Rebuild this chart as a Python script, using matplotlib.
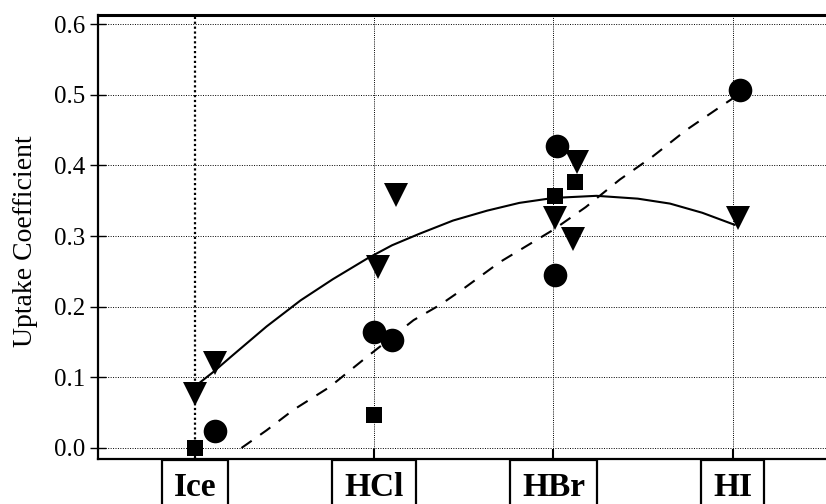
import matplotlib
matplotlib.use("Agg")
import matplotlib.pyplot as plt

# categories along the x axis
categories = ["Ice", "HCl", "HBr", "HI"]
cat_pos = [1, 2, 3, 4]

# filled circles
circle_x = [1.11, 2.00, 2.10, 3.02, 3.01, 4.04]
circle_y = [0.024, 0.164, 0.153, 0.427, 0.245, 0.507]

# filled down-triangles
tri_x = [1.00, 1.11, 2.02, 2.12, 3.01, 3.11, 3.13, 4.03]
tri_y = [0.077, 0.121, 0.256, 0.358, 0.325, 0.296, 0.405, 0.325]

# filled squares
sq_x = [1.00, 2.00, 3.01, 3.12]
sq_y = [0.000, 0.047, 0.357, 0.376]

# solid trend curve
solid_x = [1.01, 1.10, 1.21, 1.40, 1.59, 1.77, 1.96, 2.10, 2.25, 2.44, 2.63,
           2.81, 3.00, 3.24, 3.47, 3.65, 3.83, 4.01]
solid_y = [0.089, 0.107, 0.131, 0.172, 0.209, 0.239, 0.268, 0.287, 0.303,
           0.322, 0.336, 0.347, 0.354, 0.357, 0.353, 0.346, 0.333, 0.316]

# dashed trend line
dash_x = [1.26, 1.40, 1.55, 1.75, 1.94, 2.22, 2.37, 2.49, 2.70, 3.00,
          3.18, 3.37, 3.55, 3.74, 3.93, 4.03]
dash_y = [0.000, 0.025, 0.054, 0.086, 0.125, 0.181, 0.203, 0.224, 0.263,
          0.309, 0.341, 0.380, 0.412, 0.450, 0.483, 0.500]

yticks = [0.0, 0.1, 0.2, 0.3, 0.4, 0.5, 0.6]

plt.rcParams["font.family"] = ["Liberation Serif", "DejaVu Serif"]

fig = plt.figure(figsize=(8.26, 5.04), dpi=100)
ax = fig.add_axes([98 / 826, 1 - 459 / 504, 1 - 98 / 826, 444 / 504])

ax.set_xlim(0.46, 4.52)
ax.set_ylim(-0.0156, 0.613)

# grid
for y in yticks:
    ax.axhline(y, color="black", lw=0.7, ls=(0, (1, 1.5)), zorder=1)
for x in cat_pos:
    ax.axvline(x, color="black", lw=1.6 if x == 1 else 0.7,
               ls=(0, (1, 1.2)), zorder=1)

ax.plot(solid_x, solid_y, color="black", lw=1.5, zorder=2)
ax.plot(dash_x, dash_y, color="black", lw=1.5, ls=(0, (6, 5)), zorder=2)

ax.plot(circle_x, circle_y, "o", color="black", ms=17, mew=0, zorder=3)
ax.plot(tri_x, tri_y, "v", color="black", ms=17.5, mew=0, zorder=3)
ax.plot(sq_x, sq_y, "s", color="black", ms=11, mew=0, zorder=3)

ax.set_yticks(yticks)
ax.set_yticklabels([f"{v:.1f}" for v in yticks], fontsize=18)
ax.tick_params(axis="y", direction="inout", length=12, width=1, pad=3.5)

ax.set_xticks(cat_pos)
ax.set_xticklabels(categories, fontsize=24, fontweight="bold")
ax.tick_params(axis="x", direction="in", length=7, width=1.5, pad=9.4)
for lab in ax.get_xticklabels():
    lab.set_bbox(dict(boxstyle="square,pad=0.36", facecolor="white",
                      edgecolor="black", linewidth=1.6))

ax.set_ylabel("Uptake Coefficient", fontsize=20)
ax.yaxis.set_label_coords(-0.083, 0.49)

ax.spines["right"].set_visible(False)
ax.spines["left"].set_linewidth(1.6)
ax.spines["bottom"].set_linewidth(1.6)
ax.spines["top"].set_linewidth(2.2)

fig.savefig("out.png", dpi=100)
